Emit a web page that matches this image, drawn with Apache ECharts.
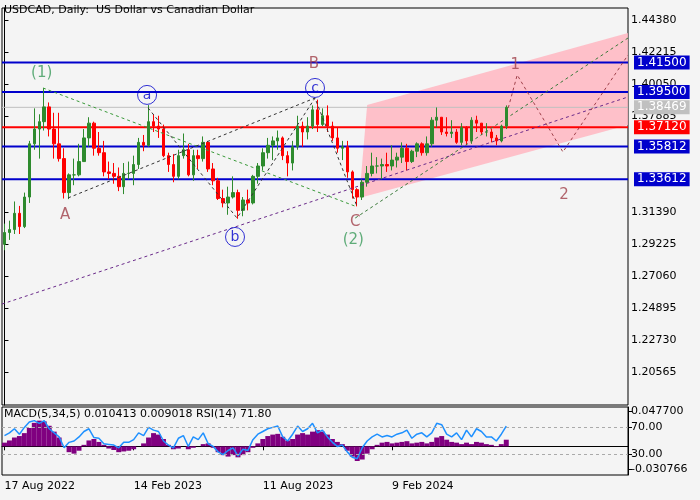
<!DOCTYPE html>
<html><head><meta charset="utf-8">
<script src="https://cdn.jsdelivr.net/npm/echarts@6/dist/echarts.min.js"></script>
<style>html,body{margin:0;padding:0;background:#f4f4f4}#c{width:700px;height:500px}</style>
</head><body><div id="c"></div>
<script>
const TOTAL_SLOTS = 126;
const tickLabels = {0:'17 Aug 2022',26:'14 Feb 2023',52:'11 Aug 2023',78:'9 Feb 2024'};
const firstOpen = 1.2920;
const closes = [1.3000,1.3020,1.3130,1.3040,1.3240,1.3600,1.3700,1.3750,1.3850,1.3700,1.3600,1.3500,1.3270,1.3390,1.3390,1.3480,1.3640,1.3740,1.3570,1.3540,
1.3410,1.3400,1.3380,1.3310,1.3400,1.3400,1.3460,1.3610,1.3590,1.3750,1.3720,1.3700,1.3520,1.3460,1.3380,1.3520,1.3560,1.3390,1.3520,1.3500,1.3610,1.3430,1.3350,1.3230,1.3200,1.3240,1.3270,1.3150,1.3220,1.3200,1.3380,1.3450,1.3540,1.3590,1.3620,1.3640,1.3520,1.3470,1.3580,1.3720,1.3680,1.3720,1.3830,1.3730,1.3790,1.3720,1.3640,1.3570,1.3580,1.3410,1.3290,1.3240,
1.3340,1.3400,1.3450,1.3450,1.3460,1.3450,1.3490,1.3510,1.3570,1.3480,1.3550,1.3600,1.3540,1.3600,1.3760,1.3780,1.3680,1.3670,1.3680,1.3610,1.3710,1.3620,1.3760,1.3740,1.3680,1.3680,1.3640,1.3620,1.3720,1.3847];
const highs = [1.3060,1.3080,1.3210,1.3180,1.3270,1.3620,1.3840,1.3800,1.3977,1.3880,1.3810,1.3810,1.3570,1.3400,1.3500,1.3600,1.3700,1.3780,1.3750,1.3680,
1.3620,1.3480,1.3470,1.3440,1.3470,1.3480,1.3520,1.3640,1.3660,1.3862,1.3800,1.3790,1.3730,1.3540,1.3530,1.3560,1.3670,1.3600,1.3560,1.3560,1.3650,1.3620,1.3470,1.3370,1.3290,1.3310,1.3380,1.3290,1.3240,1.3290,1.3390,1.3470,1.3570,1.3640,1.3650,1.3690,1.3650,1.3550,1.3620,1.3790,1.3750,1.3780,1.3860,1.3899,1.3840,1.3860,1.3750,1.3710,1.3620,1.3620,1.3420,1.3300,
1.3360,1.3450,1.3540,1.3510,1.3500,1.3540,1.3590,1.3540,1.3610,1.3600,1.3560,1.3610,1.3610,1.3650,1.3780,1.3846,1.3780,1.3780,1.3760,1.3700,1.3740,1.3720,1.3780,1.3790,1.3740,1.3740,1.3700,1.3660,1.3730,1.3860];
const lows = [1.2880,1.2950,1.2990,1.2990,1.3030,1.3200,1.3560,1.3500,1.3690,1.3650,1.3500,1.3480,1.3230,1.3226,1.3320,1.3380,1.3480,1.3580,1.3520,1.3520,
1.3380,1.3360,1.3330,1.3280,1.3260,1.3360,1.3320,1.3430,1.3550,1.3580,1.3680,1.3640,1.3510,1.3410,1.3340,1.3360,1.3500,1.3380,1.3350,1.3430,1.3480,1.3410,1.3320,1.3220,1.3170,1.3120,1.3230,1.3093,1.3110,1.3150,1.3190,1.3330,1.3420,1.3500,1.3490,1.3560,1.3490,1.3380,1.3420,1.3560,1.3580,1.3630,1.3700,1.3680,1.3720,1.3680,1.3620,1.3540,1.3490,1.3370,1.3230,1.3177,
1.3220,1.3310,1.3380,1.3400,1.3360,1.3410,1.3420,1.3440,1.3470,1.3420,1.3470,1.3510,1.3520,1.3520,1.3580,1.3710,1.3660,1.3650,1.3640,1.3600,1.3590,1.3590,1.3600,1.3680,1.3660,1.3650,1.3610,1.3590,1.3610,1.3700];
const macdHist = [5,8,12,14,18,25,32,35,34,28,20,12, 0,-8,-10,-6,2,8,10,6, 2,-3,-5,-8,-7,-6,-4,0,4, 12,18,16,10,2,-4,-3,0, -4,-2,0,3,4,
 -2,-8,-12,-14,-12,-15,-12,-8,-2,4, 10,14,16,17,13,8,10,16,18,16,20, 22,20,16,10,6,3, -6,-14,-20,-18,
 -10,-4,2,5,6,4,5,6,7,4,5,6,4,6,12,14,9,6,5,3,5,3,6,5,3,2,-1,3,9].map(v=>v/1000);
const rsi = [58,62,68,60,70,78,80,76,80,68,62,56, 40,48,50,56,64,68,55,54, 46,45,44,40,48,48,52,62,58, 70,66,64,50,44,40,54,58, 42,56,52,62,46,
 42,34,30,36,40,28,38,36,52,60, 64,68,70,72,56,50,60,72,64,68,76, 62,66,56,48,42,44, 34,26,24,40,
 50,56,60,56,58,56,60,62,66,54,60,62,56,62,76,74,60,56,62,52,66,56,68,64,56,56,50,60,72];
const priceTicks = [1.44380,1.42215,1.40050,1.37885,1.31390,1.29225,1.27060,1.24895,1.22730,1.20565];
const levels = [{v:1.41500,c:'#0000cc'},{v:1.39500,c:'#0000cc'},{v:1.38469,c:'#c0c0c0'},{v:1.37120,c:'#ff0000'},{v:1.35812,c:'#0000cc'},{v:1.33612,c:'#0000cc'}];
const channel = [[73,1.3863],[125.5,1.4350],[125.5,1.3728],[71.4,1.3234]];
const dashLines = [
 {pts:[[7.75,1.3978],[71,1.3173]],c:'#3a9a3a'},
 {pts:[[12.8,1.3234],[62.5,1.3910]],c:'#333'},
 {pts:[[28.9,1.3843],[46.8,1.3098],[62.5,1.3910],[71,1.3173]],c:'#333'},
 {pts:[[-0.5,1.2516],[125.5,1.3917]],c:'#6a2a8a'},
 {pts:[[70.6,1.3098],[125.5,1.4316]],c:'#3a7a3a'},
 {pts:[[101.4,1.3843],[103.2,1.4066],[112.4,1.3545],[125.5,1.4201]],c:'#a0404a'}
];
const waveLabels = [
 {t:'(1)',p:[7.5,1.4079],c:'#3a9a5a',circ:false},{t:'A',p:[12.2,1.3119],c:'#a0404a',circ:false},
 {t:'a',p:[28.7,1.3931],c:'#0000cc',circ:true},{t:'b',p:[46.4,1.2970],c:'#0000cc',circ:true},
 {t:'B',p:[62.3,1.4140],c:'#a0404a',circ:false},{t:'c',p:[62.5,1.3978],c:'#0000cc',circ:true},
 {t:'C',p:[70.6,1.3071],c:'#a0404a',circ:false},{t:'(2)',p:[70.2,1.2949],c:'#3a9a5a',circ:false},
 {t:'1',p:[102.8,1.4133],c:'#a0404a',circ:false},{t:'2',p:[112.6,1.3254],c:'#a0404a',circ:false}
];

const cats = Array.from({length:TOTAL_SLOTS},(_,i)=>tickLabels[i]||'');
const ohlc = closes.map((c,i)=>[i===0?firstOpen:closes[i-1], c, lows[i], highs[i]]);
const F = 'DejaVu Sans';
const series = [];
series.push({type:'custom',xAxisIndex:1,yAxisIndex:0,z:1,silent:true,
 renderItem:(params,api)=>({type:'polygon',shape:{points:channel.map(p=>api.coord(p))},style:{fill:'rgba(255,182,193,0.85)'}}),
 data:[0]});
levels.forEach(l=>series.push({type:'line',xAxisIndex:1,yAxisIndex:0,z:2,symbol:'none',silent:true,
 data:[[-0.5,l.v],[TOTAL_SLOTS-0.5,l.v]],lineStyle:{color:l.c,width:l.c==='#c0c0c0'?1:2},
 endLabel:{show:true,formatter:l.v.toFixed(5),color:'#fff',backgroundColor:l.c,fontFamily:F,fontSize:12,padding:[1,3,1,3],distance:6},
 labelLayout:{moveOverlap:false}}));
series.push({type:'candlestick',xAxisIndex:0,yAxisIndex:0,z:3,barWidth:3,data:ohlc,
 itemStyle:{color:'#2e8b2e',color0:'#ff0000',borderColor:'#2e8b2e',borderColor0:'#ff0000',borderWidth:1}});
dashLines.forEach(d=>series.push({type:'line',xAxisIndex:1,yAxisIndex:0,z:4,symbol:'none',silent:true,data:d.pts,lineStyle:{color:d.c,width:1,type:[3,3]}}));
series.push({type:'scatter',xAxisIndex:1,yAxisIndex:0,z:5,silent:true,
 data:waveLabels.map(w=>({value:w.p,symbol:'circle',symbolSize:w.circ?19:2,itemStyle:{color:'rgba(0,0,0,0)',borderColor:w.circ?w.c:'rgba(0,0,0,0)',borderWidth:1},
  label:{show:true,position:'inside',formatter:w.t,color:w.c,fontFamily:F,fontSize:w.circ?14:15}}))});
series.push({type:'bar',xAxisIndex:2,yAxisIndex:1,barWidth:'100%',data:macdHist,itemStyle:{color:'#800080'},silent:true});
series.push({type:'line',xAxisIndex:2,yAxisIndex:2,data:rsi,symbol:'none',lineStyle:{color:'#1e90ff',width:1.5},silent:true,
 markLine:{symbol:'none',silent:true,label:{show:false},lineStyle:{color:'#aaa',type:[3,3],width:1},data:[{yAxis:70},{yAxis:30}]}});

const lbl = {fontFamily:F,fontSize:11,color:'#000'};
const opt = {
 animation:false, backgroundColor:'#f4f4f4',
 graphic:[{type:'text',left:4,top:5,style:{text:'USDCAD, Daily:  US Dollar vs Canadian Dollar',font:'11px DejaVu Sans',fill:'#000'}},
          {type:'text',left:4,top:409,style:{text:'MACD(5,34,5) 0.010413 0.009018 RSI(14) 71.80',font:'11px DejaVu Sans',fill:'#000'}}],
 grid:[{left:2,right:72,top:8,bottom:95,show:true,borderColor:'#000',borderWidth:1,backgroundColor:'#f4f4f4'},
       {left:2,right:72,top:407,height:68,show:true,borderColor:'#000',borderWidth:1,backgroundColor:'#f4f4f4'}],
 xAxis:[{type:'category',gridIndex:0,data:cats,boundaryGap:true,axisLabel:{show:false},axisTick:{show:false},axisLine:{show:false}},
        {type:'value',gridIndex:0,min:-0.5,max:TOTAL_SLOTS-0.5,show:false},
        {type:'category',gridIndex:1,data:cats,boundaryGap:true,axisLine:{lineStyle:{color:'#000'}},
         axisTick:{show:true,interval:(i,v)=>v!=='',lineStyle:{color:'#000'},length:4,alignWithLabel:true},
         axisLabel:{...lbl,interval:(i,v)=>v!=='',align:'left',margin:6}}],
 yAxis:[{type:'value',gridIndex:0,position:'right',min:1.1833,max:1.4519,splitLine:{show:false},
         axisLine:{show:true,lineStyle:{color:'#000'}},axisTick:{show:true,customValues:priceTicks,length:4,lineStyle:{color:'#000'}},
         axisLabel:{...lbl,customValues:priceTicks,formatter:v=>v.toFixed(5),margin:3}},
        {type:'value',gridIndex:1,position:'right',min:-0.0391,max:0.0536,splitLine:{show:false},
         axisLine:{show:true,lineStyle:{color:'#000'}},axisTick:{show:true,customValues:[0.0477,-0.030766],length:4,lineStyle:{color:'#000'}},
         axisLabel:{...lbl,customValues:[0.0477,-0.030766],formatter:v=>v===0.0477?'0.047700':'-0.030766',margin:3}},
        {type:'value',gridIndex:1,position:'right',min:0,max:100,splitLine:{show:false},axisLine:{show:false},
         axisTick:{show:true,customValues:[70,30],length:4,lineStyle:{color:'#000'}},
         axisLabel:{...lbl,customValues:[70,30],formatter:v=>v.toFixed(2),margin:3}}],
 series
};
echarts.init(document.getElementById('c')).setOption(opt);
</script></body></html>
